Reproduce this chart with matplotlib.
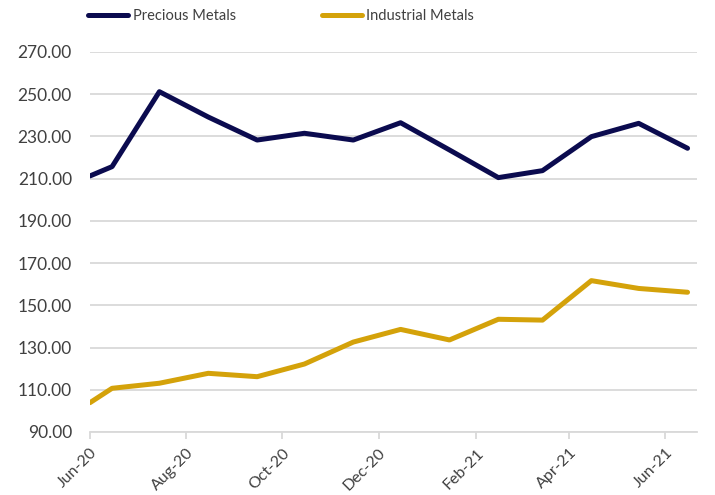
import matplotlib
matplotlib.use("Agg")
import matplotlib.pyplot as plt
import pandas as pd

dates = ["2020-06-01", "2020-06-15", "2020-07-15", "2020-08-15", "2020-09-15",
         "2020-10-15", "2020-11-15", "2020-12-15", "2021-01-15", "2021-02-15",
         "2021-03-15", "2021-04-15", "2021-05-15", "2021-06-15"]
precious = [211.3, 215.7, 251.2, 239.2, 228.3, 231.5, 228.3, 236.5, 223.6, 210.5,
            213.8, 229.9, 236.2, 224.4]
industrial = [103.9, 110.7, 113.1, 117.8, 116.2, 122.2, 132.6, 138.6, 133.6, 143.4,
              143.0, 161.7, 158.0, 156.2]
tick_dates = ["2020-06-01", "2020-08-01", "2020-10-01", "2020-12-01",
              "2021-02-01", "2021-04-01", "2021-06-01"]
tick_labels = ["Jun-20", "Aug-20", "Oct-20", "Dec-20", "Feb-21", "Apr-21", "Jun-21"]
yticks = [90, 110, 130, 150, 170, 190, 210, 230, 250, 270]

plt.rcParams['font.family'] = ['Lato', 'DejaVu Sans']

x = pd.to_datetime(dates)
fig = plt.figure(figsize=(7.15, 4.95), dpi=100)
ax = fig.add_axes([90/715, 1 - 432/495, (697-90)/715, (432-52)/495])

l1, = ax.plot(x, precious, color="#0b0b4f", lw=3.6, solid_capstyle="round",
              solid_joinstyle="round", label="Precious Metals")
l2, = ax.plot(x, industrial, color="#d4a20a", lw=3.6, solid_capstyle="round",
              solid_joinstyle="round", label="Industrial Metals")

ax.set_ylim(90, 270)
ax.set_xlim(pd.Timestamp("2020-06-01"), pd.Timestamp("2021-06-21"))
ax.set_yticks(yticks)
ax.set_yticklabels([f"{v:.2f}" for v in yticks])
ax.set_xticks(pd.to_datetime(tick_dates))
ax.set_xticklabels(tick_labels, rotation=45, ha="right", rotation_mode="anchor")

ax.grid(axis="y", color="#d9d9d9", lw=1.3)
ax.set_axisbelow(True)
for s in ["top", "right", "left"]:
    ax.spines[s].set_visible(False)
ax.spines["bottom"].set_color("#d9d9d9")
ax.spines["bottom"].set_linewidth(1.3)
ax.tick_params(axis="y", length=0, pad=13, labelsize=12.5, labelcolor="#404040")
ax.tick_params(axis="x", length=5, color="#d9d9d9", width=1.3, labelsize=11.5,
               labelcolor="#404040", pad=5)

fig.legend(handles=[l1, l2], loc="center left", bbox_to_anchor=(75/715, 1 - 16/495),
           ncol=2, frameon=False, fontsize=10.5, handlelength=2.75, handletextpad=0.3,
           columnspacing=5.9, labelcolor="#404040")

fig.savefig("out.png", dpi=100)
